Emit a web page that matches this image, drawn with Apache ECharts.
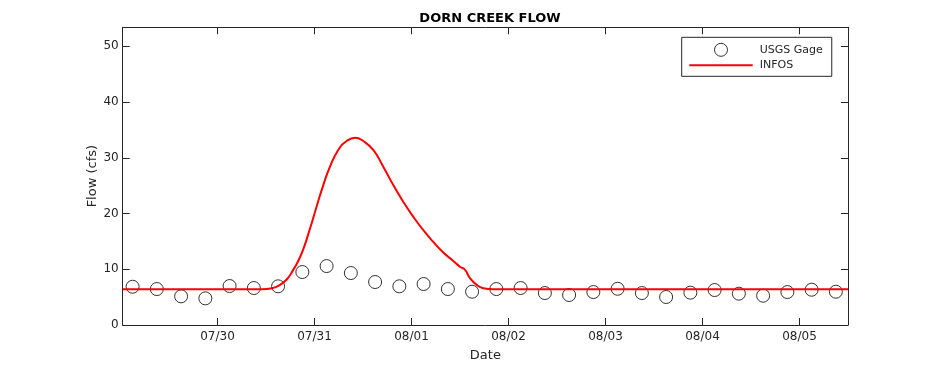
<!DOCTYPE html>
<html>
<head>
<meta charset="utf-8">
<script src="https://cdn.jsdelivr.net/npm/echarts@6/dist/echarts.min.js"></script>
<style>
html,body{margin:0;padding:0;background:#fff;}
#chart{width:938px;height:365px;}
</style>
</head>
<body>
<div id="chart"></div>
<script>
// Time in days since 07/29 00:00
var xTickDays = [1, 2, 3, 4, 5, 6, 7];
var xTickLabels = ['07/30', '07/31', '08/01', '08/02', '08/03', '08/04', '08/05'];
var yTicks = [0, 10, 20, 30, 40, 50];

var gageDays = [0.125, 0.375, 0.625, 0.875, 1.125, 1.375, 1.625, 1.875, 2.125, 2.375,
  2.625, 2.875, 3.125, 3.375, 3.625, 3.875, 4.125, 4.375, 4.625, 4.875,
  5.125, 5.375, 5.625, 5.875, 6.125, 6.375, 6.625, 6.875, 7.125, 7.375];
var gageValues = [6.86, 6.45, 5.14, 4.78, 6.99, 6.63, 6.94, 9.5, 10.57, 9.32,
  7.71, 6.94, 7.35, 6.45, 5.97, 6.45, 6.63, 5.73, 5.38, 5.91,
  6.5, 5.73, 5.02, 5.8, 6.27, 5.62, 5.26, 5.91, 6.33, 5.97];

var infosDays = [0.023, 1.459, 1.562, 1.644, 1.716, 1.778, 1.830, 1.885, 1.954, 2.023,
  2.091, 2.160, 2.245, 2.332, 2.418, 2.503, 2.606, 2.709, 2.812, 2.915,
  3.019, 3.122, 3.225, 3.328, 3.431, 3.500, 3.552, 3.603, 3.672, 3.740, 3.843, 7.5];
var infosValues = [6.4, 6.4, 6.6, 7.2, 8.2, 9.8, 11.4, 13.6, 17.3, 21.3,
  25.1, 28.4, 31.4, 33.0, 33.6, 33.0, 31.4, 28.4, 25.1, 22.1,
  19.4, 17.0, 14.9, 13.0, 11.5, 10.45, 9.9, 8.4, 7.2, 6.6, 6.4, 6.4];

var xMin = 0.023, xMax = 7.5, yMin = 0, yMax = 53.4;
var axisColor = '#262626';

function zip(a, b) { return a.map(function (v, i) { return [v, b[i]]; }); }
function dayLabel(v) {
  var i = xTickDays.indexOf(Math.round(v));
  return i >= 0 ? xTickLabels[i] : '';
}

var chart = echarts.init(document.getElementById('chart'), null, {renderer: 'canvas'});
chart.setOption({
  animation: false,
  backgroundColor: '#ffffff',
  title: {
    text: 'DORN CREEK FLOW',
    left: 485, top: 7, textAlign: 'center',
    textStyle: {fontFamily: 'DejaVu Sans', fontSize: 13, fontWeight: 'bold', color: '#000'}
  },
  legend: {
    orient: 'vertical',
    left: 681.7, top: 37.3,
    padding: [5.5, 9, 5.5, 7.6],
    borderColor: axisColor, borderWidth: 1,
    backgroundColor: '#fff',
    itemWidth: 63.4, itemHeight: 13, itemGap: 3,
    textStyle: {fontFamily: 'DejaVu Sans', fontSize: 11, color: axisColor, padding: [0, 0, 0, 2]},
    data: [
      {name: 'USGS Gage', icon: 'circle',
        itemStyle: {color: 'rgba(0,0,0,0)', borderColor: '#000', borderWidth: 1}},
      {name: 'INFOS', icon: 'path://M0,0 L64,0 L64,2 L0,2 Z',
        itemStyle: {color: '#ff0000', borderWidth: 0}, lineStyle: {width: 0, opacity: 0}}
    ]
  },
  grid: {left: 122.7, right: 90, top: 27.3, bottom: 40, containLabel: false, outerBoundsMode: 'none'},
  xAxis: [{
    type: 'value', min: xMin, max: xMax, position: 'bottom',
    name: 'Date', nameLocation: 'middle', nameGap: 24, nameMoveOverlap: false,
    nameTextStyle: {fontFamily: 'DejaVu Sans', fontSize: 13, color: axisColor},
    axisLine: {show: true, onZero: false, lineStyle: {color: axisColor, width: 1}},
    axisTick: {show: true, inside: true, length: 7, customValues: xTickDays, lineStyle: {color: axisColor}},
    axisLabel: {show: true, customValues: xTickDays, formatter: dayLabel, margin: 6,
      fontFamily: 'DejaVu Sans', fontSize: 12, color: axisColor},
    splitLine: {show: false}
  }, {
    type: 'value', min: xMin, max: xMax, position: 'top',
    axisLine: {show: true, onZero: false, lineStyle: {color: axisColor, width: 1}},
    axisTick: {show: true, inside: true, length: 7, customValues: xTickDays, lineStyle: {color: axisColor}},
    axisLabel: {show: false},
    splitLine: {show: false}
  }],
  yAxis: [{
    type: 'value', min: yMin, max: yMax, position: 'left',
    name: 'Flow (cfs)', nameLocation: 'middle', nameGap: 24, nameMoveOverlap: false,
    nameTextStyle: {fontFamily: 'DejaVu Sans', fontSize: 13, color: axisColor},
    axisLine: {show: true, onZero: false, lineStyle: {color: axisColor, width: 1}},
    axisTick: {show: true, inside: true, length: 7, customValues: yTicks, lineStyle: {color: axisColor}},
    axisLabel: {show: true, customValues: yTicks, margin: 4,
      fontFamily: 'DejaVu Sans', fontSize: 12, color: axisColor},
    splitLine: {show: false}
  }, {
    type: 'value', min: yMin, max: yMax, position: 'right',
    axisLine: {show: true, onZero: false, lineStyle: {color: axisColor, width: 1}},
    axisTick: {show: true, inside: true, length: 7, customValues: yTicks, lineStyle: {color: axisColor}},
    axisLabel: {show: false},
    splitLine: {show: false}
  }],
  series: [{
    name: 'USGS Gage',
    type: 'scatter',
    xAxisIndex: 0, yAxisIndex: 0,
    symbol: 'circle', symbolSize: 13,
    itemStyle: {color: 'rgba(0,0,0,0)', borderColor: '#000', borderWidth: 1},
    data: zip(gageDays, gageValues)
  }, {
    name: 'INFOS',
    type: 'line',
    xAxisIndex: 0, yAxisIndex: 0,
    symbol: 'none', showSymbol: false,
    smooth: 0.5,
    lineStyle: {color: '#ff0000', width: 2},
    itemStyle: {color: '#ff0000'},
    data: zip(infosDays, infosValues)
  }]
});
</script>
</body>
</html>
